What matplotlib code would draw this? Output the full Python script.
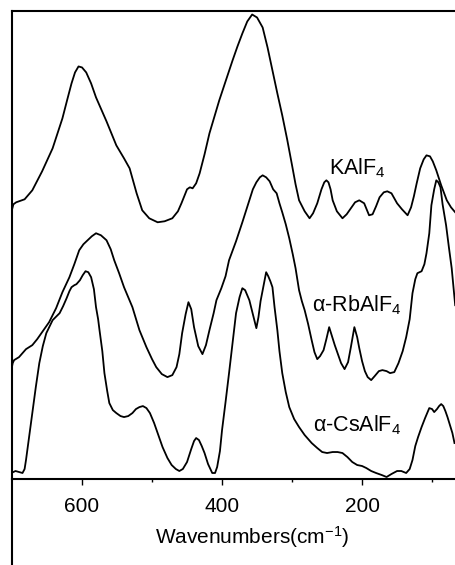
import numpy as np
import matplotlib
matplotlib.use("Agg")
import matplotlib.pyplot as plt
from matplotlib.lines import Line2D

plt.rcParams['font.family'] = ['Liberation Sans', 'DejaVu Sans']
plt.rcParams['mathtext.fontset'] = 'custom'
plt.rcParams['mathtext.rm'] = 'Liberation Sans'
plt.rcParams['mathtext.it'] = 'Liberation Sans'

# spectra: wavenumber (cm-1), intensity (arb. units)
k_wn = [701, 698, 694, 682, 671, 657, 642, 628, 621, 615, 610, 605, 600, 594, 587, 580,
        565, 551, 540, 532, 522, 514, 504, 492, 482, 471, 463, 458, 450, 446, 442, 437,
        432, 425, 418, 404, 395, 385, 378, 371, 364, 357, 350, 342, 335, 328, 321, 314,
        307, 300, 295, 290, 282, 275, 270, 264, 258, 254, 251, 248, 245, 242, 236, 228,
        222, 215, 210, 204, 197, 190, 185, 180, 175, 169, 164, 158, 150, 143, 135, 130,
        126, 122, 117, 112, 108, 103, 99, 94, 87, 79, 73, 67]
k_int = [267, 275, 277, 280, 289, 308, 331, 361, 380, 396, 407, 413, 412, 407, 396, 382,
         358, 334, 321, 311, 286, 269, 261, 257, 258, 261, 268, 276, 290, 292, 291, 296,
         306, 325, 346, 379, 398, 419, 433, 446, 458, 465, 462, 452, 432, 409, 386, 364,
         340, 314, 295, 279, 268, 261, 266, 276, 290, 297, 299, 297, 290, 279, 268, 261,
         265, 272, 277, 279, 276, 264, 265, 273, 282, 287, 288, 286, 276, 270, 264, 272,
         283, 296, 311, 320, 324, 323, 318, 309, 294, 279, 272, 267]

rb_wn = [701, 699, 697, 690, 680, 671, 664, 657, 647, 637, 628, 618, 611, 604, 598, 592,
         586, 580, 573, 565, 559, 554, 547, 540, 528, 518, 508, 500, 494, 486, 478, 471,
         465, 461, 457, 452, 448, 444, 440, 434, 428, 423, 418, 412, 408, 401, 395, 390,
         380, 371, 366, 361, 356, 351, 346, 342, 337, 332, 327, 322, 318, 314, 309, 304,
         299, 295, 290, 286, 282, 277, 272, 268, 264, 260, 255, 251, 247, 243, 239, 234,
         230, 225, 220, 216, 211, 207, 204, 200, 196, 192, 187, 182, 176, 171, 165, 160,
         154, 148, 142, 137, 132, 128, 124, 121, 118, 115, 111, 108, 104, 101, 97, 94,
         91, 88, 85, 80, 76, 72, 67]
rb_int = [109, 116, 119, 122, 130, 134, 140, 147, 157, 171, 187, 202, 215, 229, 235, 239,
          243, 246, 244, 239, 230, 219, 206, 192, 172, 149, 132, 120, 112, 105, 102, 104,
          112, 125, 146, 165, 177, 170, 152, 133, 125, 134, 149, 166, 179, 191, 203, 219,
          238, 257, 268, 279, 290, 297, 302, 304, 302, 298, 290, 286, 276, 267, 255, 241,
          225, 211, 189, 178, 169, 155, 139, 127, 120, 123, 129, 140, 152, 143, 134, 124,
          116, 110, 117, 132, 152, 142, 131, 118, 108, 102, 99, 103, 108, 109, 108, 106,
          107, 116, 128, 142, 160, 186, 200, 206, 207, 208, 215, 226, 246, 274, 290, 299,
          297, 292, 275, 254, 232, 211, 174]

cs_wn = [701, 695, 690, 685, 682, 680, 676, 671, 666, 661, 656, 651, 642, 632, 627, 622,
         618, 615, 611, 608, 603, 599, 595, 591, 587, 583, 580, 577, 575, 571, 568, 564,
         561, 556, 551, 545, 540, 534, 528, 523, 518, 513, 508, 503, 497, 491, 485, 478,
         472, 466, 461, 456, 450, 444, 440, 437, 433, 429, 425, 420, 414, 410, 407, 403,
         400, 395, 390, 385, 380, 375, 371, 367, 361, 356, 351, 348, 345, 342, 339, 337,
         334, 331, 328, 325, 321, 318, 314, 309, 304, 297, 290, 282, 272, 264, 257, 250,
         242, 235, 228, 221, 214, 207, 200, 194, 187, 180, 172, 165, 158, 150, 144, 137,
         132, 128, 124, 120, 115, 110, 104, 100, 97, 93, 90, 87, 84, 81, 78, 74, 71, 68]
cs_int = [6, 8, 7, 6, 10, 19, 40, 66, 92, 116, 133, 146, 159, 166, 173, 181,
          188, 192, 194, 195, 199, 204, 208, 207, 202, 190, 172, 160, 149, 128, 106, 88,
          76, 69, 66, 63, 62, 63, 66, 70, 72, 73, 71, 66, 56, 44, 32, 21,
          14, 10, 8, 10, 17, 30, 38, 41, 39, 33, 26, 15, 6, 6, 12, 28,
          49, 77, 106, 136, 166, 182, 191, 189, 179, 165, 151, 162, 178, 189, 200, 207,
          203, 198, 192, 172, 149, 128, 106, 87, 72, 60, 52, 44, 36, 31, 27, 26,
          27, 27, 26, 22, 17, 14, 13, 11, 8, 6, 4, 2, 5, 8, 8, 6,
          10, 19, 33, 42, 52, 61, 71, 70, 67, 70, 73, 75, 73, 68, 62, 53, 46, 36]

names = [r'KAlF$_4$', r'α-RbAlF$_4$', r'α-CsAlF$_4$']
name_pos = [(207, 311), (208, 174), (207, 54)]
major_ticks = [600, 400, 200]
minor_ticks = [500, 300, 100]

fig = plt.figure(figsize=(4.56, 5.65), dpi=100)
# axes run past the right edge of the figure, like the cropped original
ax = fig.add_axes([12 / 456, 86 / 565, 481 / 456, 468.5 / 565])

for wn, inten in [(k_wn, k_int), (rb_wn, rb_int), (cs_wn, cs_int)]:
    ax.plot(wn, inten, color='black', lw=1.3)

for name, (x, y) in zip(names, name_pos):
    ax.text(x, y, name, fontsize=15.5, ha='center', va='center')

ax.set_xlim(700, 13)
ax.set_ylim(0, 469)
ax.set_xticks(major_ticks)
ax.set_xticks(minor_ticks, minor=True)
ax.set_yticks([])
ax.tick_params(axis='x', which='major', direction='out', length=4, width=1,
               labelsize=15, pad=9)
ax.tick_params(axis='x', which='minor', direction='out', length=2, width=1)
ax.spines['right'].set_visible(False)
for s in ['left', 'top', 'bottom']:
    ax.spines[s].set_linewidth(1.5)
ax.set_xlabel(r'Wavenumbers(cm$^{\mathregular{-1}}$)', fontsize=15, labelpad=6)

# left frame line continues down to the bottom of the figure
fig.add_artist(Line2D([12 / 456, 12 / 456], [0, 86 / 565], color='black', lw=1.5,
                      transform=fig.transFigure))

fig.savefig('out.png', dpi=100)
